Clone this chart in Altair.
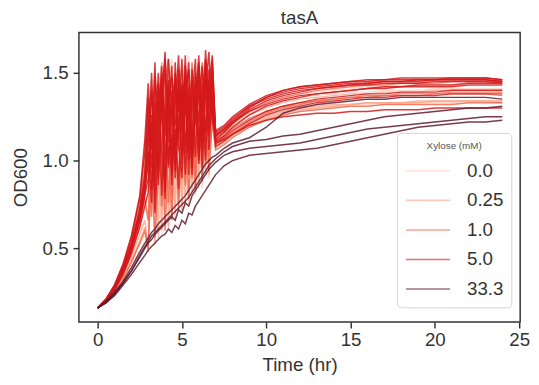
import altair as alt
import pandas as pd

# Time points (hr)
time_hr = [0, 0.5, 1.0, 1.5, 2.0, 2.5, 2.8,
           3.0, 3.2, 3.4, 3.6, 3.8, 4.0, 4.2, 4.4, 4.6, 4.8,
           5.0, 5.2, 5.4, 5.6, 5.8, 6.0, 6.2, 6.4, 6.6, 6.8,
           7.0, 7.5, 8, 9, 10, 11, 12, 13, 14, 15, 16, 17, 18, 19, 20, 21, 22, 23, 24]

xylose_levels = ["0.0", "0.25", "1.0", "5.0", "33.3"]
level_colors = ["#fcd3c4", "#f8a88e", "#f0694f", "#d3191b", "#5e1a2e"]

# OD600 curves, one list per well
z1 = [0.16, 0.20, 0.27, 0.37, 0.49, 0.66, 0.84,
      0.62, 1.30, 0.70, 1.42, 0.66, 1.10, 1.48, 0.72, 1.36, 0.80, 1.50, 0.76, 1.28, 0.86, 1.44, 0.84, 1.54, 0.92, 1.40, 1.18,
      1.13, 1.16, 1.20, 1.27, 1.31, 1.34, 1.36, 1.37, 1.38, 1.39, 1.39, 1.40, 1.40, 1.40, 1.41, 1.41, 1.41, 1.41, 1.41]
z2 = [0.16, 0.20, 0.25, 0.33, 0.42, 0.52, 0.58,
      0.50, 0.96, 0.54, 1.20, 0.58, 1.34, 0.62, 1.06, 0.66, 1.30, 0.70, 1.38, 0.74, 1.16, 0.80, 1.42, 0.84, 1.26, 0.90, 1.30,
      1.08, 1.11, 1.14, 1.20, 1.24, 1.27, 1.29, 1.30, 1.31, 1.32, 1.32, 1.33, 1.33, 1.33, 1.33, 1.33, 1.34, 1.34, 1.34]
z3 = [0.16, 0.21, 0.28, 0.40, 0.55, 0.76, 1.08,
      1.20, 0.68, 1.46, 0.74, 1.56, 0.80, 1.38, 1.58, 0.82, 1.48, 0.88, 1.32, 1.60, 0.90, 1.46, 0.96, 1.52, 1.00, 1.56, 1.36,
      1.14, 1.17, 1.21, 1.28, 1.33, 1.36, 1.38, 1.39, 1.40, 1.41, 1.42, 1.42, 1.43, 1.43, 1.43, 1.43, 1.44, 1.44, 1.44]
q1 = [0.16, 0.20, 0.25, 0.33, 0.43, 0.54, 0.62,
      0.48, 1.08, 0.52, 1.24, 0.60, 1.36, 0.62, 1.18, 0.70, 1.42, 0.72, 1.26, 0.78, 1.44, 0.82, 1.30, 0.88, 1.46, 0.92, 1.24,
      1.07, 1.10, 1.14, 1.20, 1.24, 1.27, 1.29, 1.30, 1.31, 1.32, 1.33, 1.33, 1.33, 1.34, 1.34, 1.34, 1.34, 1.34, 1.34]
q2 = [0.16, 0.21, 0.28, 0.38, 0.52, 0.70, 0.90,
      1.16, 1.46, 0.72, 1.34, 1.56, 0.78, 1.40, 0.84, 1.50, 1.20, 0.86, 1.54, 1.10, 0.92, 1.48, 1.24, 0.96, 1.52, 1.30, 1.40,
      1.12, 1.15, 1.19, 1.26, 1.30, 1.33, 1.35, 1.36, 1.37, 1.38, 1.38, 1.39, 1.39, 1.39, 1.40, 1.40, 1.40, 1.40, 1.40]
q3 = [0.16, 0.20, 0.26, 0.34, 0.45, 0.58, 0.66,
      0.52, 0.92, 1.18, 0.56, 1.30, 0.64, 1.40, 0.68, 1.22, 0.74, 1.36, 0.76, 1.46, 0.82, 1.20, 0.86, 1.40, 0.92, 1.28, 1.22,
      1.09, 1.12, 1.15, 1.21, 1.25, 1.28, 1.30, 1.31, 1.32, 1.32, 1.33, 1.33, 1.33, 1.33, 1.34, 1.34, 1.34, 1.34, 1.33]
m1 = [0.16, 0.20, 0.26, 0.35, 0.47, 0.63, 0.78,
      0.66, 1.22, 0.72, 1.32, 0.88, 1.40, 0.76, 1.26, 1.46, 0.82, 1.34, 0.88, 1.44, 0.90, 1.30, 1.50, 0.96, 1.38, 1.02, 1.42,
      1.09, 1.12, 1.16, 1.22, 1.27, 1.30, 1.32, 1.34, 1.35, 1.36, 1.37, 1.37, 1.38, 1.38, 1.38, 1.39, 1.39, 1.39, 1.39]
m2 = [0.16, 0.20, 0.27, 0.37, 0.50, 0.67, 0.82,
      1.02, 0.68, 1.28, 1.44, 0.74, 1.20, 1.36, 0.80, 1.40, 1.06, 1.52, 0.86, 1.26, 1.48, 0.92, 1.34, 1.56, 0.98, 1.42, 1.28,
      1.11, 1.14, 1.18, 1.24, 1.28, 1.31, 1.33, 1.34, 1.35, 1.36, 1.36, 1.37, 1.37, 1.37, 1.38, 1.38, 1.38, 1.38, 1.37]
m3 = [0.16, 0.19, 0.24, 0.32, 0.42, 0.53, 0.60,
      0.50, 0.98, 0.56, 0.90, 1.16, 0.60, 1.08, 0.66, 1.24, 0.72, 1.12, 1.30, 0.78, 1.20, 0.84, 1.36, 0.88, 1.26, 0.94, 1.22,
      1.06, 1.09, 1.13, 1.19, 1.23, 1.26, 1.28, 1.29, 1.30, 1.31, 1.31, 1.32, 1.32, 1.32, 1.32, 1.32, 1.33, 1.33, 1.33]
m4 = [0.16, 0.21, 0.28, 0.39, 0.54, 0.74, 0.96,
      1.36, 0.92, 1.50, 1.18, 0.86, 1.44, 1.58, 0.96, 1.34, 1.52, 0.94, 1.40, 1.20, 1.56, 1.04, 1.44, 1.00, 1.50, 1.28, 1.58,
      1.13, 1.16, 1.21, 1.28, 1.33, 1.36, 1.38, 1.40, 1.41, 1.42, 1.43, 1.43, 1.44, 1.44, 1.44, 1.45, 1.45, 1.45, 1.45]
r1 = [0.16, 0.20, 0.27, 0.37, 0.50, 0.68, 0.85,
      1.05, 0.76, 1.34, 0.86, 1.46, 0.82, 1.26, 1.54, 0.90, 1.40, 1.02, 1.48, 0.92, 1.36, 1.58, 1.00, 1.44, 1.10, 1.52, 1.30,
      1.12, 1.16, 1.21, 1.29, 1.34, 1.37, 1.39, 1.41, 1.42, 1.43, 1.44, 1.45, 1.45, 1.46, 1.46, 1.46, 1.46, 1.46, 1.45]
r2 = [0.16, 0.21, 0.28, 0.39, 0.53, 0.72, 0.92,
      1.30, 0.84, 1.16, 1.50, 0.80, 1.24, 1.42, 0.94, 1.56, 1.08, 0.90, 1.38, 1.52, 1.00, 1.28, 1.48, 0.96, 1.40, 1.62, 1.22,
      1.15, 1.18, 1.22, 1.28, 1.32, 1.35, 1.37, 1.38, 1.39, 1.40, 1.41, 1.42, 1.42, 1.43, 1.43, 1.43, 1.44, 1.44, 1.44]
r3 = [0.16, 0.20, 0.26, 0.35, 0.47, 0.62, 0.74,
      0.82, 1.22, 0.70, 1.04, 1.32, 0.78, 1.46, 0.92, 1.18, 0.84, 1.42, 1.08, 1.30, 0.92, 1.50, 1.12, 1.34, 1.00, 1.46, 1.26,
      1.10, 1.12, 1.15, 1.20, 1.23, 1.25, 1.26, 1.27, 1.27, 1.28, 1.28, 1.29, 1.29, 1.29, 1.30, 1.30, 1.30, 1.30, 1.30]
r4 = [0.16, 0.21, 0.29, 0.41, 0.57, 0.80, 1.12,
      1.44, 1.06, 1.56, 0.92, 1.32, 1.62, 1.10, 1.40, 0.98, 1.52, 1.20, 1.60, 1.06, 1.46, 1.26, 1.56, 1.14, 1.63, 1.34, 1.50,
      1.14, 1.17, 1.22, 1.30, 1.36, 1.40, 1.42, 1.43, 1.44, 1.45, 1.46, 1.46, 1.47, 1.47, 1.47, 1.47, 1.47, 1.47, 1.46]
r5 = [0.16, 0.20, 0.27, 0.36, 0.49, 0.66, 0.80,
      0.90, 1.26, 0.80, 1.38, 1.04, 0.86, 1.32, 1.48, 0.94, 1.24, 1.42, 0.92, 1.36, 1.10, 1.44, 0.98, 1.32, 1.50, 1.06, 1.38,
      1.08, 1.11, 1.15, 1.21, 1.26, 1.29, 1.31, 1.33, 1.34, 1.35, 1.36, 1.36, 1.37, 1.37, 1.37, 1.38, 1.38, 1.38, 1.38]
r6 = [0.16, 0.21, 0.28, 0.38, 0.51, 0.70, 0.88,
      1.14, 1.40, 0.88, 1.22, 1.54, 1.00, 1.36, 0.86, 1.46, 1.28, 1.58, 1.04, 1.42, 0.96, 1.34, 1.60, 1.10, 1.46, 1.22, 1.56,
      1.16, 1.19, 1.24, 1.31, 1.35, 1.38, 1.40, 1.41, 1.42, 1.43, 1.43, 1.44, 1.44, 1.44, 1.45, 1.45, 1.45, 1.45, 1.44]
r7 = [0.16, 0.21, 0.28, 0.38, 0.52, 0.71, 0.90,
      1.22, 0.96, 1.48, 1.10, 1.36, 1.58, 0.98, 1.30, 1.50, 1.12, 1.44, 1.26, 1.56, 1.08, 1.38, 1.22, 1.54, 1.16, 1.42, 1.60,
      1.14, 1.18, 1.23, 1.31, 1.36, 1.39, 1.41, 1.42, 1.43, 1.44, 1.44, 1.45, 1.45, 1.45, 1.46, 1.46, 1.46, 1.46, 1.45]
r8 = [0.16, 0.20, 0.27, 0.37, 0.50, 0.68, 0.84,
      0.98, 1.38, 1.18, 0.90, 1.50, 1.24, 1.44, 1.06, 1.32, 1.60, 1.16, 1.34, 1.00, 1.52, 1.20, 1.40, 1.06, 1.56, 1.30, 1.44,
      1.11, 1.14, 1.19, 1.26, 1.31, 1.34, 1.36, 1.38, 1.39, 1.40, 1.41, 1.41, 1.42, 1.42, 1.42, 1.42, 1.43, 1.43, 1.43]
r9 = [0.16, 0.21, 0.29, 0.40, 0.56, 0.78, 1.05,
      1.36, 1.12, 0.94, 1.44, 1.28, 1.52, 0.96, 1.36, 1.20, 1.46, 0.98, 1.54, 1.30, 1.14, 1.48, 1.02, 1.38, 1.58, 1.18, 1.34,
      1.17, 1.20, 1.25, 1.32, 1.37, 1.40, 1.42, 1.43, 1.44, 1.45, 1.45, 1.46, 1.46, 1.46, 1.46, 1.47, 1.47, 1.47, 1.46]
r10 = [0.16, 0.20, 0.27, 0.36, 0.49, 0.66, 0.82,
       1.10, 1.50, 1.00, 1.30, 1.46, 1.14, 1.58, 1.26, 1.04, 1.42, 1.30, 1.50, 1.12, 1.38, 1.02, 1.54, 1.28, 1.44, 1.14, 1.52,
       1.10, 1.13, 1.17, 1.23, 1.28, 1.31, 1.33, 1.35, 1.36, 1.37, 1.38, 1.38, 1.39, 1.39, 1.39, 1.40, 1.40, 1.40, 1.40]
d1 = [0.16, 0.19, 0.23, 0.29, 0.35, 0.42, 0.46,
      0.49, 0.51, 0.53, 0.55, 0.57, 0.58, 0.61, 0.59, 0.63, 0.61, 0.66, 0.64, 0.70, 0.69, 0.74, 0.77, 0.80, 0.83, 0.86, 0.89,
      0.92, 0.97, 1.00, 1.03, 1.04, 1.05, 1.06, 1.07, 1.09, 1.11, 1.13, 1.15, 1.17, 1.19, 1.20, 1.21, 1.22, 1.22, 1.23]
d2 = [0.16, 0.19, 0.24, 0.30, 0.37, 0.45, 0.50,
      0.53, 0.55, 0.58, 0.60, 0.62, 0.64, 0.66, 0.68, 0.66, 0.72, 0.70, 0.76, 0.74, 0.80, 0.83, 0.86, 0.89, 0.92, 0.95, 0.97,
      0.99, 1.03, 1.05, 1.07, 1.08, 1.09, 1.10, 1.12, 1.14, 1.16, 1.18, 1.19, 1.20, 1.21, 1.22, 1.23, 1.24, 1.25, 1.25]
d3 = [0.16, 0.19, 0.24, 0.30, 0.37, 0.46, 0.51,
      0.54, 0.57, 0.59, 0.61, 0.63, 0.65, 0.67, 0.69, 0.71, 0.73, 0.75, 0.77, 0.79, 0.82, 0.85, 0.88, 0.91, 0.94, 0.97, 0.99,
      1.01, 1.05, 1.08, 1.11, 1.12, 1.14, 1.15, 1.17, 1.19, 1.21, 1.23, 1.25, 1.26, 1.27, 1.28, 1.29, 1.30, 1.30, 1.31]
d4 = [0.16, 0.20, 0.25, 0.31, 0.39, 0.48, 0.53,
      0.56, 0.59, 0.61, 0.64, 0.66, 0.68, 0.70, 0.72, 0.74, 0.76, 0.78, 0.80, 0.83, 0.86, 0.89, 0.92, 0.95, 0.98, 1.00, 1.02,
      1.03, 1.07, 1.10, 1.13, 1.19, 1.27, 1.30, 1.32, 1.33, 1.34, 1.35, 1.35, 1.36, 1.36, 1.36, 1.36, 1.36, 1.36, 1.35]

curves = [
    ("0.0", "z1", z1), ("0.0", "z2", z2), ("0.0", "z3", z3),
    ("0.25", "q1", q1), ("0.25", "q2", q2), ("0.25", "q3", q3),
    ("1.0", "m1", m1), ("1.0", "m2", m2), ("1.0", "m3", m3), ("1.0", "m4", m4),
    ("5.0", "r1", r1), ("5.0", "r2", r2), ("5.0", "r3", r3), ("5.0", "r4", r4), ("5.0", "r5", r5),
    ("5.0", "r6", r6), ("5.0", "r7", r7), ("5.0", "r8", r8), ("5.0", "r9", r9), ("5.0", "r10", r10),
    ("33.3", "d1", d1), ("33.3", "d2", d2), ("33.3", "d3", d3), ("33.3", "d4", d4),
]

rows = []
for lvl, cid, vals in curves:
    for t, v in zip(time_hr, vals):
        rows.append({"Time": t, "OD600": v, "Xylose": lvl, "well": cid})
df = pd.DataFrame(rows)

FONT = "Liberation Sans"
FS = 19

chart = alt.Chart(df).mark_line(strokeWidth=1.5, opacity=0.85).encode(
    x=alt.X("Time:Q", title="Time (hr)",
            scale=alt.Scale(domain=[-1.11, 25.06], nice=False, zero=False),
            axis=alt.Axis(values=[0, 5, 10, 15, 20, 25], format="d",
                          labelPadding=3, titlePadding=6)),
    y=alt.Y("OD600:Q", title="OD600",
            scale=alt.Scale(domain=[0.08, 1.73], nice=False, zero=False),
            axis=alt.Axis(values=[0.5, 1.0, 1.5], format=".1f",
                          labelPadding=5, titlePadding=12)),
    color=alt.Color("Xylose:N", title="Xylose (mM)",
                    sort=xylose_levels,
                    scale=alt.Scale(domain=xylose_levels, range=level_colors),
                    legend=alt.Legend(orient="none", legendX=323, legendY=102,
                                      symbolType="stroke", symbolSize=2000,
                                      symbolStrokeWidth=1.6, symbolOpacity=0.6,
                                      clipHeight=17,
                                      rowPadding=10, labelOffset=16,
                                      padding=8, fillColor="white",
                                      strokeColor="#d4d4d4", cornerRadius=4,
                                      titleFontSize=10, titleColor="#555",
                                      titleFontWeight="normal", titleAnchor="middle",
                                      titlePadding=12,
                                      labelFontSize=FS, labelColor="#333")),
    detail="well:N",
).properties(
    width=448, height=294,
    title=alt.TitleParams("tasA", fontSize=FS, font=FONT, fontWeight="normal",
                          color="#333", offset=5, anchor="middle"),
    autosize=alt.AutoSizeParams(type="none"),
    padding={"left": 72, "top": 22, "right": 11, "bottom": 53},
).configure(font=FONT).configure_view(
    stroke="#333", strokeWidth=1.5
).configure_axis(
    grid=False, domain=False, tickSize=6, tickWidth=1.5, tickColor="#333",
    labelFontSize=FS, labelColor="#333", labelFont=FONT,
    titleFontSize=FS, titleColor="#333", titleFont=FONT, titleFontWeight="normal",
).configure_legend(labelFont=FONT, titleFont=FONT)

chart.save("out.html", embed_options={"renderer": "svg", "actions": False})
